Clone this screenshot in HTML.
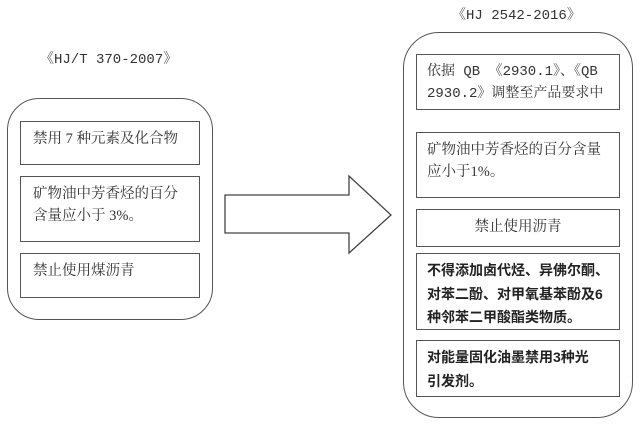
<!DOCTYPE html>
<html><head><meta charset="utf-8"><style>
body{margin:0;width:640px;height:435px;background:#fff;position:relative;overflow:hidden;font-family:"Liberation Serif","Noto Serif CJK SC",serif;color:#333}
.a{position:absolute;box-sizing:border-box}
.o{border:1.5px solid #555}
.b{border:1.5px solid #555;padding:6px 10px 0 12px;font-size:14.5px;line-height:22px}
.t{font-family:"Liberation Mono","Noto Serif CJK SC",monospace;font-size:14px;white-space:nowrap}
.m{font-family:"Liberation Mono","Noto Serif CJK SC",monospace}
.s{font-family:"Liberation Sans","Noto Sans CJK SC",sans-serif}
.bold{font-weight:bold;color:#222}
</style></head><body>
<div class="a t" style="left:40px;top:48px">《HJ/T 370-2007》</div>
<div class="a o" style="left:7px;top:98px;width:206px;height:222px;border-radius:32px"></div>
<div class="a b" style="left:20px;top:121px;width:180px;height:44px">禁用 7 种元素及化合物</div>
<div class="a b" style="left:20px;top:176px;width:180px;height:66px">矿物油中芳香烃的百分<br>含量应小于 3%。</div>
<div class="a b" style="left:20px;top:253px;width:180px;height:45px">禁止使用煤沥青</div>

<svg class="a" style="left:0;top:0" width="640" height="435"><polygon points="225,195 349,195 349,176 391,215 349,253 349,233 225,233" fill="#fff" stroke="#444" stroke-width="1.3"/></svg>

<div class="a t" style="left:452px;top:4px">《HJ 2542-2016》</div>
<div class="a o" style="left:403px;top:32px;width:230px;height:386px;border-radius:36px"></div>
<div class="a b m" style="left:416px;top:54px;width:204px;height:56px;padding-left:10px;font-size:14px;white-space:nowrap">依据 QB 《2930.1》、《QB<br>2930.2》调整至产品要求中</div>
<div class="a b" style="left:416px;top:132px;width:204px;height:66px;padding-left:10px">矿物油中芳香烃的百分含量<br>应小于1%。</div>
<div class="a b" style="left:416px;top:209px;width:204px;height:38px;text-align:center;padding:6px 0 0">禁止使用沥青</div>
<div class="a b s bold" style="left:416px;top:253px;width:204px;height:77px;padding:5px 6px 0 10px;font-size:14px;line-height:23.5px">不得添加卤代烃、异佛尔酮、<br>对苯二酚、对甲氧基苯酚及6<br>种邻苯二甲酸酯类物质。</div>
<div class="a b s bold" style="left:416px;top:340px;width:204px;height:57px;padding:5px 6px 0 10px;font-size:14px;line-height:23.5px">对能量固化油墨禁用3种光<br>引发剂。</div>
</body></html>
